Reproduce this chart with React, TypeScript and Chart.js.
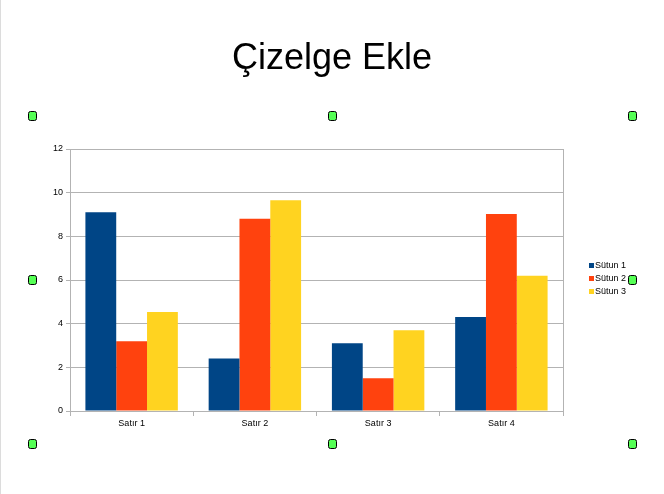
import React, { useEffect, useRef } from "react";
import { Chart, registerables } from "chart.js";

Chart.register(...registerables);

const title = "Çizelge Ekle";
const categories = ["Satır 1", "Satır 2", "Satır 3", "Satır 4"];
const seriesNames = ["Sütun 1", "Sütun 2", "Sütun 3"];
const sutun1 = [9.1, 2.4, 3.1, 4.3];
const sutun2 = [3.2, 8.8, 1.5, 9.02];
const sutun3 = [4.54, 9.65, 3.7, 6.2];
const seriesColors = ["#004586", "#ff420e", "#ffd320"];
const yTicks = { min: 0, max: 12, step: 2 };

const FONT = "'Liberation Sans', Arial, sans-serif";

const decor = {
  id: "decor",
  beforeDraw(chart: any) {
    const ctx = chart.ctx;
    ctx.save();
    ctx.fillStyle = "#ffffff";
    ctx.fillRect(0, 0, chart.width, chart.height);
    ctx.strokeStyle = "#dcdcdc";
    ctx.lineWidth = 1;
    ctx.beginPath();
    ctx.moveTo(0.5, 0);
    ctx.lineTo(0.5, chart.height);
    ctx.stroke();
    ctx.restore();
  },
  afterDraw(chart: any) {
    const ctx = chart.ctx;
    const area = chart.chartArea;
    ctx.save();
    // right wall border
    ctx.strokeStyle = "#b3b3b3";
    ctx.lineWidth = 1;
    ctx.beginPath();
    ctx.moveTo(Math.round(area.right) + 0.5, area.top);
    ctx.lineTo(Math.round(area.right) + 0.5, area.bottom);
    ctx.stroke();

    // title
    ctx.fillStyle = "#000000";
    ctx.font = `36px ${FONT}`;
    ctx.textAlign = "center";
    ctx.textBaseline = "alphabetic";
    ctx.fillText(title, 332, 69);

    // legend
    ctx.font = `9px ${FONT}`;
    ctx.textAlign = "left";
    ctx.textBaseline = "middle";
    chart.data.datasets.forEach((ds: any, i: number) => {
      const y = 266 + i * 13;
      ctx.fillStyle = ds.backgroundColor;
      ctx.fillRect(589, y - 3, 5, 5);
      ctx.fillStyle = "#000000";
      ctx.fillText(ds.label, 595, y);
    });

    // selection handles
    const hx = [32, 332, 632];
    const hy = [115, 279, 443];
    const pts: number[][] = [];
    hy.forEach((y, r) =>
      hx.forEach((x, c) => {
        if (r === 1 && c === 1) return;
        pts.push([x, y]);
      })
    );
    pts.forEach(([x, y]) => {
      const w = 8, h = 9, rr = 2;
      const x0 = x - 4 + 0.5, y0 = y - 4 + 0.5;
      ctx.beginPath();
      ctx.moveTo(x0 + rr, y0);
      ctx.lineTo(x0 + w - rr, y0);
      ctx.quadraticCurveTo(x0 + w, y0, x0 + w, y0 + rr);
      ctx.lineTo(x0 + w, y0 + h - rr);
      ctx.quadraticCurveTo(x0 + w, y0 + h, x0 + w - rr, y0 + h);
      ctx.lineTo(x0 + rr, y0 + h);
      ctx.quadraticCurveTo(x0, y0 + h, x0, y0 + h - rr);
      ctx.lineTo(x0, y0 + rr);
      ctx.quadraticCurveTo(x0, y0, x0 + rr, y0);
      ctx.closePath();
      ctx.fillStyle = "#55ff55";
      ctx.fill();
      ctx.strokeStyle = "#000000";
      ctx.lineWidth = 1;
      ctx.stroke();
    });
    ctx.restore();
  },
};

export default function App() {
  const ref = useRef<HTMLCanvasElement | null>(null);
  useEffect(() => {
    if (!ref.current) return;
    const seriesData = [sutun1, sutun2, sutun3];
    const chart = new Chart(ref.current, {
      type: "bar",
      data: {
        labels: categories,
        datasets: seriesNames.map((name, i) => ({
          label: name,
          data: seriesData[i],
          backgroundColor: seriesColors[i],
          borderWidth: 0,
          categoryPercentage: 0.75,
          barPercentage: 1.0,
        })),
      },
      options: {
        animation: false,
        responsive: false,
        devicePixelRatio: 1,
        layout: { padding: { top: 149, right: 101, left: 0, bottom: 0 } },
        plugins: {
          legend: { display: false },
          title: { display: false },
          tooltip: { enabled: false },
        },
        scales: {
          x: {
            afterFit: (s: any) => {
              s.height = 83;
            },
            grid: {
              offset: true,
              drawOnChartArea: false,
              drawTicks: true,
              tickLength: 5,
              color: "#b3b3b3",
            },
            border: { display: true, color: "#b3b3b3", width: 1 },
            ticks: {
              color: "#000000",
              padding: 2,
              font: { family: FONT, size: 9 },
              maxRotation: 0,
            },
          },
          y: {
            min: yTicks.min,
            max: yTicks.max,
            afterFit: (s: any) => {
              s.width = 70;
            },
            grid: {
              color: "#b3b3b3",
              tickLength: 4,
              drawTicks: true,
            },
            border: { display: true, color: "#b3b3b3", width: 1 },
            ticks: {
              stepSize: yTicks.step,
              color: "#000000",
              padding: 3,
              font: { family: FONT, size: 9 },
            },
          },
        },
      },
      plugins: [decor],
    });
    return () => chart.destroy();
  }, []);
  return (
    <div
      style={{
        position: "fixed",
        left: 0,
        top: 0,
        width: 664,
        height: 494,
        background: "#ffffff",
      }}
    >
      <canvas ref={ref} width={664} height={494} style={{ display: "block" }} />
    </div>
  );
}
